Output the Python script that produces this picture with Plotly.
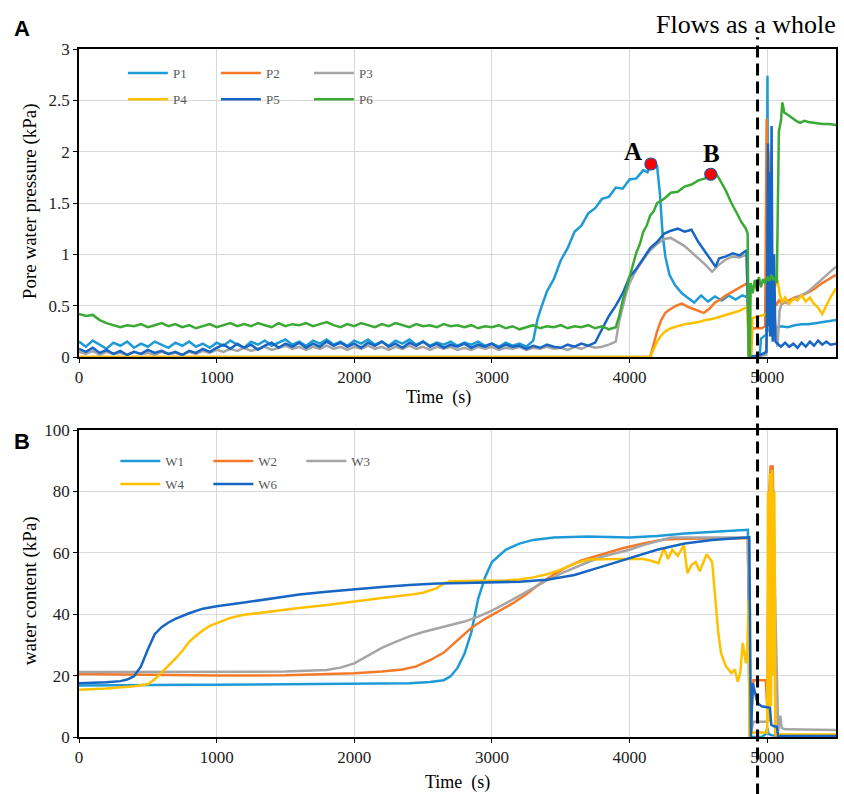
import plotly.graph_objects as go

# ---------------- Panel A: pore water pressure (kPa) ----------------
P1_T = [0, 50, 100, 150, 200, 250, 300, 350, 400, 450, 500, 550, 600, 650, 700, 750, 800, 850, 900, 950,
        1000, 1050, 1100, 1150, 1200, 1250, 1300, 1350, 1400, 1450, 1500, 1550, 1600, 1650, 1700, 1750,
        1800, 1850, 1900, 1950, 2000, 2050, 2100, 2150, 2200, 2250, 2300, 2350, 2400, 2450, 2500, 2550,
        2600, 2650, 2700, 2750, 2800, 2850, 2900, 2950, 3000, 3050, 3100, 3150, 3200, 3250, 3300,
        3330, 3350, 3400, 3450, 3500, 3550, 3600, 3650, 3700, 3750, 3800, 3850, 3900, 3950, 4000, 4050,
        4100, 4130, 4155, 4200, 4220, 4240, 4260, 4290, 4330, 4380, 4420, 4470, 4520, 4570, 4620, 4670,
        4720, 4770, 4820, 4860, 4872, 4945, 4955, 4995, 5002, 5008, 5014, 5020, 5060, 5100, 5150, 5200,
        5250, 5300, 5350, 5400, 5450, 5500]
P1_V = [0.15, 0.10, 0.16, 0.12, 0.08, 0.14, 0.11, 0.15, 0.09, 0.13, 0.10, 0.15, 0.12, 0.09, 0.14, 0.11,
        0.15, 0.10, 0.13, 0.09, 0.14, 0.11, 0.16, 0.12, 0.09, 0.15, 0.12, 0.16, 0.11, 0.14, 0.17, 0.12,
        0.15, 0.11, 0.16, 0.13, 0.17, 0.12, 0.15, 0.11, 0.16, 0.13, 0.17, 0.12, 0.15, 0.11, 0.16, 0.13,
        0.17, 0.12, 0.15, 0.11, 0.14, 0.12, 0.15, 0.11, 0.14, 0.12, 0.15, 0.11, 0.13, 0.10, 0.14, 0.11,
        0.13, 0.10, 0.16,
        0.36, 0.45, 0.64, 0.76, 0.94, 1.06, 1.22, 1.28, 1.40, 1.45, 1.54, 1.56, 1.65, 1.64, 1.73, 1.74,
        1.82, 1.80, 1.88, 1.86, 1.60, 1.20, 0.98, 0.80, 0.70, 0.62, 0.58, 0.53, 0.60, 0.54, 0.59, 0.55,
        0.60, 0.56, 0.60, 0.58, 0.00, 0.00, 0.18, 0.22, 2.74, 0.30, 0.25, 0.28, 0.28, 0.30, 0.29, 0.31,
        0.32, 0.32, 0.33, 0.34, 0.35, 0.36]

P2_T = [0, 4150, 4170, 4200, 4230, 4260, 4300, 4340, 4380, 4420, 4460, 4500, 4540, 4580, 4620, 4660,
        4700, 4740, 4780, 4820, 4855, 4868, 4882, 4892, 4960, 4985, 4996, 5003, 5009, 5016, 5023, 5031,
        5045, 5065, 5085, 5110, 5150, 5200, 5250, 5300, 5350, 5400, 5450, 5500]
P2_V = [0, 0, 0.10, 0.25, 0.36, 0.43, 0.47, 0.50, 0.52, 0.49, 0.47, 0.45, 0.43, 0.47, 0.53, 0.56,
        0.60, 0.63, 0.66, 0.69, 0.72, 0.00, 0.00, 0.28, 0.28, 0.30, 2.32, 0.40, 2.00, 0.50, 1.20, 0.45,
        0.60, 0.50, 0.55, 0.52, 0.55, 0.58, 0.60, 0.63, 0.67, 0.72, 0.76, 0.80]

P3_T = [0, 50, 100, 150, 200, 250, 300, 350, 400, 450, 500, 550, 600, 650, 700, 750, 800, 850, 900, 950,
        1000, 1050, 1100, 1150, 1200, 1250, 1300, 1350, 1400, 1450, 1500, 1550, 1600, 1650, 1700, 1750,
        1800, 1850, 1900, 1950, 2000, 2050, 2100, 2150, 2200, 2250, 2300, 2350, 2400, 2450, 2500, 2550,
        2600, 2650, 2700, 2750, 2800, 2850, 2900, 2950, 3000, 3050, 3100, 3150, 3200, 3250, 3300, 3350,
        3400, 3450, 3500, 3550, 3600, 3650, 3700, 3750, 3800, 3850, 3900, 3925, 3950, 3975, 4000, 4050,
        4100, 4150, 4200, 4250, 4300, 4350, 4400, 4450, 4500, 4550, 4600, 4650, 4700, 4750, 4800, 4850,
        4868, 4990, 5020, 5040, 5060, 5075, 5090, 5110, 5150, 5200, 5250, 5300, 5350, 5400, 5450, 5500]
P3_V = [0.05, 0.03, 0.06, 0.02, 0.05, 0.03, 0.04, 0.02, 0.05, 0.03, 0.04, 0.02, 0.05, 0.03, 0.04, 0.02,
        0.05, 0.03, 0.06, 0.04, 0.07, 0.05, 0.08, 0.06, 0.09, 0.06, 0.08, 0.10, 0.07, 0.09, 0.11, 0.08,
        0.10, 0.07, 0.10, 0.08, 0.11, 0.08, 0.10, 0.07, 0.10, 0.08, 0.11, 0.08, 0.10, 0.07, 0.10, 0.08,
        0.11, 0.08, 0.10, 0.07, 0.10, 0.08, 0.10, 0.07, 0.09, 0.07, 0.10, 0.08, 0.10, 0.07, 0.09, 0.08,
        0.10, 0.07, 0.09, 0.08, 0.10, 0.08, 0.09, 0.07, 0.10, 0.08, 0.11, 0.09, 0.10, 0.12, 0.15, 0.35,
        0.50, 0.62, 0.72, 0.85, 0.95, 1.04, 1.10, 1.15, 1.16, 1.12, 1.08, 1.02, 0.96, 0.90, 0.83, 0.90,
        0.95, 0.98, 0.97, 1.00, 0.00, 0.02, 0.70, 0.60, 0.30, 0.10, 0.45, 0.55, 0.52, 0.57, 0.60, 0.64,
        0.70, 0.76, 0.82, 0.88]

P4_T = [0, 4150, 4170, 4200, 4230, 4260, 4300, 4350, 4400, 4450, 4500, 4550, 4600, 4650, 4700, 4750,
        4800, 4855, 4868, 4882, 4892, 4950, 4995, 5003, 5010, 5020, 5030, 5045, 5060, 5075, 5090, 5110,
        5130, 5160, 5190, 5220, 5250, 5280, 5310, 5340, 5370, 5400, 5430, 5460, 5500]
P4_V = [0, 0, 0.06, 0.15, 0.21, 0.25, 0.28, 0.30, 0.32, 0.33, 0.34, 0.36, 0.37, 0.39, 0.41, 0.43,
        0.45, 0.49, 0.00, 0.00, 0.38, 0.40, 0.42, 0.45, 0.60, 0.80, 0.70, 0.72, 0.70, 0.75, 0.62, 0.53,
        0.58, 0.52, 0.57, 0.55, 0.60, 0.54, 0.58, 0.52, 0.48, 0.42, 0.50, 0.58, 0.67]

P5_T = [0, 50, 100, 150, 200, 250, 300, 350, 400, 450, 500, 550, 600, 650, 700, 750, 800, 850, 900, 950,
        1000, 1050, 1100, 1150, 1200, 1250, 1300, 1350, 1400, 1450, 1500, 1550, 1600, 1650, 1700, 1750,
        1800, 1850, 1900, 1950, 2000, 2050, 2100, 2150, 2200, 2250, 2300, 2350, 2400, 2450, 2500, 2550,
        2600, 2650, 2700, 2750, 2800, 2850, 2900, 2950, 3000, 3050, 3100, 3150, 3200, 3250, 3300, 3350,
        3400, 3450, 3500, 3550, 3600, 3650, 3700, 3750, 3800, 3850, 3900, 3950, 4000, 4050, 4100, 4150,
        4200, 4250, 4300, 4350, 4400, 4450, 4500, 4550, 4600, 4625, 4650, 4700, 4750, 4800, 4850, 4870,
        4950, 4995, 5001, 5006, 5011, 5016, 5022, 5032, 5040, 5050, 5060, 5080, 5100, 5130, 5160, 5190,
        5220, 5250, 5280, 5310, 5340, 5370, 5400, 5430, 5460, 5500]
P5_V = [0.08, 0.05, 0.09, 0.04, 0.07, 0.03, 0.06, 0.02, 0.05, 0.03, 0.07, 0.04, 0.06, 0.03, 0.05, 0.02,
        0.06, 0.04, 0.08, 0.05, 0.09, 0.12, 0.08, 0.13, 0.09, 0.12, 0.07, 0.11, 0.14, 0.09, 0.13, 0.10,
        0.14, 0.09, 0.13, 0.10, 0.15, 0.11, 0.14, 0.10, 0.13, 0.09, 0.14, 0.11, 0.15, 0.10, 0.13, 0.09,
        0.14, 0.11, 0.15, 0.10, 0.13, 0.09, 0.12, 0.10, 0.13, 0.09, 0.12, 0.10, 0.13, 0.09, 0.12, 0.10,
        0.11, 0.08, 0.11, 0.09, 0.12, 0.10, 0.09, 0.12, 0.10, 0.13, 0.11, 0.14, 0.27, 0.40, 0.50, 0.62,
        0.78, 0.86, 0.96, 1.06, 1.12, 1.20, 1.23, 1.25, 1.22, 1.24, 1.12, 1.02, 0.92, 0.88, 0.96, 0.98,
        1.01, 0.99, 1.04, 0.00, 0.02, 0.05, 1.00, 2.08, 0.30, 1.80, 0.20, 2.25, 0.15, 1.00, 0.15, 0.12,
        0.10, 0.14, 0.10, 0.13, 0.09, 0.14, 0.10, 0.15, 0.11, 0.16, 0.12, 0.15, 0.12, 0.13]

P6_T = [0, 50, 100, 150, 200, 250, 300, 350, 400, 450, 500, 550, 600, 650, 700, 750, 800, 850, 900, 950,
        1000, 1050, 1100, 1150, 1200, 1250, 1300, 1350, 1400, 1450, 1500, 1550, 1600, 1650, 1700, 1750,
        1800, 1850, 1900, 1950, 2000, 2050, 2100, 2150, 2200, 2250, 2300, 2350, 2400, 2450, 2500, 2550,
        2600, 2650, 2700, 2750, 2800, 2850, 2900, 2950, 3000, 3050, 3100, 3150, 3200, 3250, 3300, 3350,
        3400, 3450, 3500, 3550, 3600, 3650, 3700, 3750, 3800, 3850, 3900, 3925, 3950, 3975, 4000, 4025,
        4050, 4075, 4100, 4125, 4150, 4175, 4200, 4250, 4300, 4350, 4400, 4450, 4500, 4550, 4590, 4620,
        4650, 4700, 4740, 4780, 4810, 4845, 4858, 4866, 4874, 4880, 4895, 4910, 4925, 4940, 4955, 4970,
        4985, 5000, 5015, 5030, 5045, 5060, 5070, 5085, 5100, 5110, 5125, 5150, 5180, 5210, 5240, 5270,
        5300, 5350, 5400, 5450, 5500]
P6_V = [0.42, 0.40, 0.41, 0.36, 0.33, 0.31, 0.29, 0.31, 0.30, 0.32, 0.29, 0.31, 0.33, 0.30, 0.32, 0.29,
        0.31, 0.28, 0.30, 0.32, 0.29, 0.31, 0.33, 0.30, 0.32, 0.30, 0.33, 0.31, 0.29, 0.33, 0.30, 0.32,
        0.31, 0.33, 0.30, 0.32, 0.34, 0.31, 0.29, 0.32, 0.30, 0.33, 0.31, 0.29, 0.32, 0.30, 0.33, 0.31,
        0.29, 0.32, 0.30, 0.31, 0.29, 0.32, 0.30, 0.31, 0.29, 0.31, 0.28, 0.30, 0.29, 0.31, 0.28, 0.30,
        0.27, 0.29, 0.31, 0.28, 0.30, 0.29, 0.31, 0.28, 0.30, 0.29, 0.31, 0.28, 0.30, 0.27, 0.29, 0.40,
        0.55, 0.66, 0.78, 0.88, 1.02, 1.10, 1.22, 1.28, 1.38, 1.42, 1.50, 1.54, 1.60, 1.61, 1.66, 1.68,
        1.72, 1.74, 1.78, 1.80, 1.74, 1.62, 1.50, 1.40, 1.32, 1.25, 1.20, 0.00, 0.00, 0.72, 0.62, 0.75,
        0.65, 0.78, 0.68, 0.76, 0.72, 0.78, 0.74, 0.80, 0.75, 0.78, 0.72, 2.20, 2.30, 2.48, 2.38, 2.36,
        2.33, 2.30, 2.28, 2.30, 2.29, 2.28, 2.27, 2.27, 2.26]

# ---------------- Panel B: water content ----------------
W1_T = [0, 200, 400, 600, 800, 1000, 1500, 2000, 2400, 2550, 2650, 2700, 2750, 2800, 2850, 2900, 2950,
        3000, 3100, 3200, 3300, 3450, 3700, 4000, 4200, 4400, 4600, 4800, 4860, 4868, 4880, 4960, 4990,
        5000, 5010, 5030, 5100, 5500]
W1_V = [16.8, 16.9, 17.0, 16.9, 17.0, 17.0, 17.1, 17.2, 17.5, 17.9, 18.5, 19.8, 22.5, 27.0, 34.0, 45.0,
        52.0, 57.0, 61.0, 63.0, 64.2, 65.0, 65.3, 65.0, 65.5, 66.3, 66.8, 67.3, 67.5, 20.0, 0.0, 0.0, 1.0,
        3.0, 1.0, 0.6, 0.5, 0.5]

W2_T = [0, 200, 500, 1000, 1500, 1800, 2000, 2200, 2350, 2450, 2550, 2650, 2750, 2850, 2950, 3050, 3150,
        3250, 3350, 3450, 3550, 3650, 3800, 3950, 4100, 4250, 4400, 4600, 4800, 4860, 4875, 4900, 4990,
        5000, 5015, 5025, 5032, 5040, 5050, 5060, 5500]
W2_V = [20.5, 20.4, 20.2, 20.0, 20.1, 20.4, 20.8, 21.3, 22.0, 23.0, 25.0, 27.5, 31.5, 35.5, 38.5, 41.0,
        43.5, 46.5, 50.0, 53.0, 55.5, 57.5, 59.5, 61.5, 63.0, 64.3, 64.6, 64.7, 64.8, 64.8, 0.0, 18.5, 18.5,
        10.0, 80.0, 88.5, 85.0, 88.5, 60.0, 0.5, 0.5]

W3_T = [0, 500, 1000, 1500, 1800, 1900, 2000, 2100, 2200, 2300, 2400, 2500, 2600, 2700, 2800, 2900, 3000,
        3100, 3200, 3300, 3400, 3500, 3600, 3700, 3800, 3900, 4000, 4100, 4200, 4300, 4400, 4600, 4800,
        4860, 4875, 4900, 5000, 5010, 5025, 5045, 5060, 5080, 5095, 5105, 5130, 5500]
W3_V = [21.2, 21.2, 21.2, 21.3, 21.8, 22.6, 24.0, 26.5, 29.0, 31.0, 32.8, 34.2, 35.3, 36.3, 37.6, 39.2,
        41.2, 43.5, 46.0, 48.6, 51.0, 53.2, 55.2, 57.0, 58.7, 59.8, 61.0, 62.5, 63.8, 65.0, 65.0, 65.0,
        65.0, 65.0, 0.0, 5.0, 5.0, 60.0, 84.0, 80.0, 40.0, 2.0, 7.0, 3.0, 2.5, 2.3]

W4_T = [0, 200, 400, 500, 550, 600, 650, 700, 750, 800, 850, 900, 950, 1000, 1100, 1200, 1400, 1600, 1800,
        2000, 2200, 2400, 2500, 2600, 2650, 2700, 2750, 2900, 3100, 3200, 3300, 3400, 3500, 3600, 3700,
        3800, 3900, 4000, 4100, 4150, 4210, 4250, 4280, 4310, 4350, 4395, 4420, 4450, 4480, 4510, 4560,
        4600, 4625, 4645, 4665, 4700, 4740, 4765, 4786, 4805, 4822, 4835, 4846, 4856, 4865, 4872, 4882,
        5000, 5006, 5013, 5020, 5028, 5036, 5044, 5052, 5060, 5500]
W4_V = [15.4, 15.8, 16.5, 17.2, 18.8, 21.0, 23.5, 25.5, 28.0, 31.0, 33.0, 34.8, 36.2, 37.0, 38.8, 39.8,
        41.0, 42.0, 43.0, 44.2, 45.3, 46.3, 47.0, 48.5, 50.0, 50.7, 50.8, 50.9, 51.0, 51.3, 52.0, 53.0,
        54.5, 56.5, 57.8, 58.0, 58.0, 58.0, 58.0, 57.5, 56.6, 61.5, 58.0, 61.0, 59.0, 62.5, 53.4, 56.0,
        57.0, 54.0, 59.5, 57.0, 45.0, 33.8, 27.3, 23.0, 20.8, 22.0, 18.0, 21.0, 30.6, 27.0, 24.0, 29.0,
        44.6, 0.0, 1.5, 1.5, 80.0, 5.0, 86.0, 10.0, 87.0, 20.0, 80.0, 0.8, 0.8]

W6_T = [0, 100, 200, 300, 350, 400, 450, 500, 550, 600, 650, 700, 800, 900, 1000, 1200, 1400, 1600, 1800,
        2000, 2200, 2400, 2600, 2800, 3000, 3200, 3400, 3600, 3800, 4000, 4200, 4400, 4600, 4800, 4860,
        4870, 4882, 4895, 4930, 4960, 5020, 5030, 5050, 5070, 5080, 5500]
W6_V = [17.5, 17.6, 17.8, 18.2, 18.7, 19.8, 23.0, 28.5, 33.5, 35.8, 37.3, 38.5, 40.3, 41.8, 42.6, 43.8,
        45.2, 46.4, 47.3, 48.2, 48.9, 49.5, 50.0, 50.2, 50.4, 50.6, 51.2, 52.8, 55.5, 58.3, 61.0, 63.0,
        64.2, 64.8, 65.0, 65.0, 0.0, 17.5, 11.0, 10.0, 9.5, 4.0, 3.5, 3.3, 0.3, 0.3]

# Peak markers: the time of each labelled peak on its series, and label offsets (px)
PEAK_LABELS = ["A", "B"]
PEAK_TIMES = [4155, 4590]
PEAK_SHIFTS = [(-18, 12), (1, 21)]

FLOW_TIME = 4930  # onset of flow as a whole

C_LBLUE = "#1E9BD7"
C_ORANGE = "#F47A2A"
C_GRAY = "#A5A5A5"
C_YELLOW = "#FFC000"
C_DBLUE = "#1766C4"
C_GREEN = "#3BA935"

SERIF = "Liberation Serif"

fig = go.Figure()

top = [("P1", P1_T, P1_V, C_LBLUE, "legend"), ("P2", P2_T, P2_V, C_ORANGE, "legend"),
       ("P3", P3_T, P3_V, C_GRAY, "legend"), ("P4", P4_T, P4_V, C_YELLOW, "legend2"),
       ("P5", P5_T, P5_V, C_DBLUE, "legend2"), ("P6", P6_T, P6_V, C_GREEN, "legend2")]
for name, t, v, c, lg in top:
    fig.add_trace(go.Scatter(x=t, y=v, name=name, mode="lines", line=dict(color=c, width=2.5),
                             xaxis="x", yaxis="y", legend=lg))

bottom = [("W1", W1_T, W1_V, C_LBLUE, "legend3"), ("W2", W2_T, W2_V, C_ORANGE, "legend3"),
          ("W3", W3_T, W3_V, C_GRAY, "legend3"), ("W4", W4_T, W4_V, C_YELLOW, "legend4"),
          ("W6", W6_T, W6_V, C_DBLUE, "legend4")]
for name, t, v, c, lg in bottom:
    fig.add_trace(go.Scatter(x=t, y=v, name=name, mode="lines", line=dict(color=c, width=2.5),
                             xaxis="x2", yaxis="y2", legend=lg))

# Peak points A (on P1) and B (on P6)
peak_vals = [P1_V[P1_T.index(PEAK_TIMES[0])], P6_V[P6_T.index(PEAK_TIMES[1])]]
fig.add_trace(go.Scatter(x=PEAK_TIMES, y=peak_vals, mode="markers", showlegend=False,
                         marker=dict(color="#FF0000", size=12, line=dict(color="#3050A0", width=1.2)),
                         xaxis="x", yaxis="y"))
for lab, t, v, (dx, dy) in zip(PEAK_LABELS, PEAK_TIMES, peak_vals, PEAK_SHIFTS):
    fig.add_annotation(x=t, y=v, xref="x", yref="y", text="<b>%s</b>" % lab, showarrow=False,
                       xanchor="center", yanchor="middle", xshift=dx, yshift=dy,
                       font=dict(family=SERIF, size=25, color="black"))

axis_common = dict(showline=True, linecolor="black", linewidth=1.5, mirror=True,
                   showgrid=True, gridcolor="#D9D9D9", gridwidth=1, zeroline=False,
                   ticks="outside", ticklen=4, tickcolor="black",
                   tickfont=dict(family=SERIF, size=17, color="#222"))

fig.update_layout(
    width=844, height=794,
    margin=dict(l=79, r=6, t=49, b=57),
    paper_bgcolor="white", plot_bgcolor="white",
    font=dict(family=SERIF, color="black"),
    xaxis=dict(domain=[0, 1], range=[0, 5500], dtick=1000, anchor="y", **axis_common),
    yaxis=dict(domain=[0.5523, 1], range=[0, 3], dtick=0.5, anchor="x", **axis_common),
    xaxis2=dict(domain=[0, 1], range=[0, 5500], dtick=1000, anchor="y2", **axis_common),
    yaxis2=dict(domain=[0, 0.4462], range=[0, 100], dtick=20, anchor="x2", **axis_common),
    showlegend=True,
)

leg_common = dict(orientation="h", xanchor="left", yanchor="middle", bgcolor="rgba(0,0,0,0)",
                  font=dict(family=SERIF, size=13, color="#595959"),
                  entrywidth=38, entrywidthmode="pixels", itemwidth=40, tracegroupgap=0)
fig.update_layout(
    legend=dict(x=0.058, y=0.965, **leg_common),
    legend2=dict(x=0.058, y=0.927, **leg_common),
    legend3=dict(x=0.048, y=0.401, **leg_common),
    legend4=dict(x=0.048, y=0.3677, **leg_common),
)

# Dashed marker line for the onset of flow, running through both panels
fig.add_shape(type="line", xref="x", yref="paper", x0=FLOW_TIME, x1=FLOW_TIME, y0=-0.085, y1=1.017,
              line=dict(color="black", width=3, dash="12px,6px"))

def note(text, x, y, size, family=SERIF, angle=0):
    fig.add_annotation(text=text, xref="paper", yref="paper", x=x, y=y, textangle=angle,
                       xanchor="center", yanchor="middle", showarrow=False,
                       font=dict(family=family, size=size, color="black"))

W_PLOT, H_PLOT = 759, 688
px_x = lambda px: (px - 79) / W_PLOT
px_y = lambda py: (737 - py) / H_PLOT

note("Flows as a whole", px_x(748), px_y(24), 26)
note("<b>A</b>", px_x(22), px_y(28), 22, family="Liberation Sans")
note("<b>B</b>", px_x(22), px_y(441), 22, family="Liberation Sans")

# Axis titles
note("Time  (s)", px_x(439), px_y(397), 18)
note("Time  (s)", px_x(459), px_y(783), 18)
note("Pore water pressure (kPa)", px_x(30), px_y(201), 19, angle=-90)
note("water content (kPa)", px_x(30), px_y(591), 19, angle=-90)

fig.write_html("out.html")
